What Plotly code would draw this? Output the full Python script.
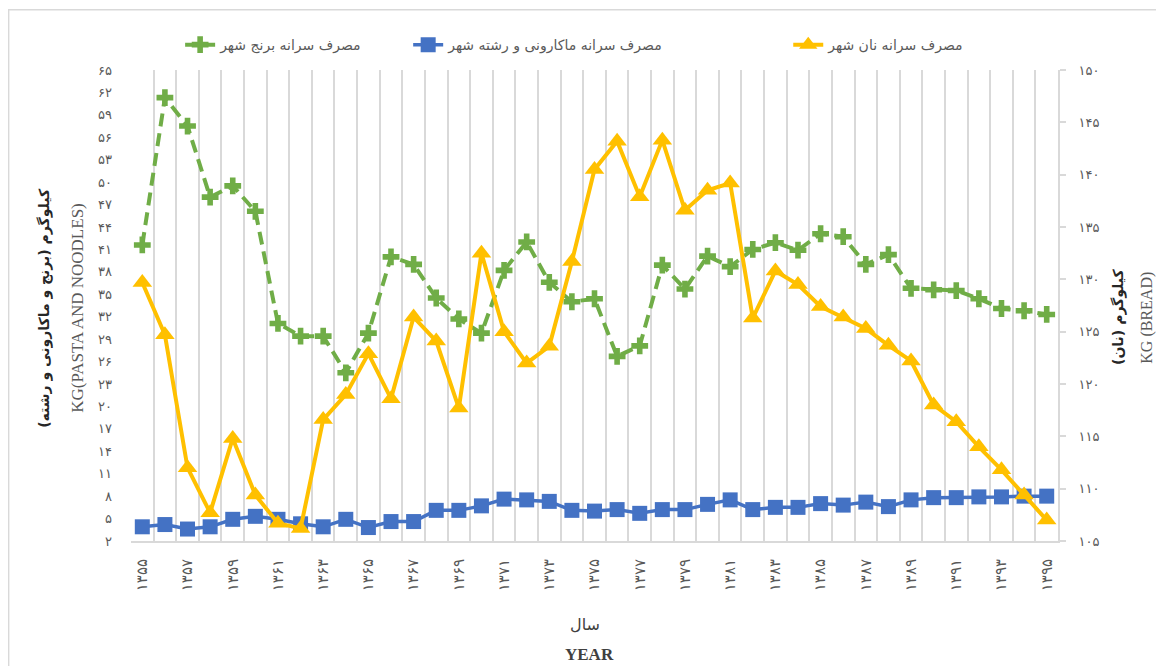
import plotly.graph_objects as go

# ---- data ----
years = list(range(1355, 1396))
rice = [41.6, 61.3, 57.5, 48.0, 49.5, 46.1, 31.1, 29.4, 29.4, 24.5, 29.8,
        40.0, 39.0, 34.5, 31.7, 29.8, 38.2, 42.0, 36.6, 34.0, 34.4, 26.7,
        28.1, 38.9, 35.7, 40.1, 38.7, 41.0, 41.9, 40.9, 43.1, 42.7, 39.0,
        40.3, 35.8, 35.6, 35.5, 34.4, 33.1, 32.8, 32.3]
pasta = [3.9, 4.2, 3.6, 3.9, 4.9, 5.3, 4.9, 4.3, 3.9, 4.9, 3.8,
         4.6, 4.6, 6.1, 6.1, 6.7, 7.6, 7.5, 7.3, 6.1, 6.0, 6.2,
         5.7, 6.2, 6.2, 6.9, 7.5, 6.2, 6.5, 6.5, 7.0, 6.8, 7.2,
         6.6, 7.5, 7.8, 7.8, 7.9, 7.9, 8.0, 8.0]
bread = [129.7, 124.7, 112.0, 107.7, 114.8, 109.4, 106.7, 106.2, 116.6, 119.0, 122.9,
         118.6, 126.4, 124.1, 117.7, 132.5, 125.0, 122.0, 123.6, 131.7, 140.5, 143.2,
         137.9, 143.3, 136.6, 138.5, 139.2, 126.3, 130.8, 129.5, 127.4, 126.4, 125.3,
         123.7, 122.2, 118.0, 116.4, 114.0, 111.8, 109.4, 107.0]

series_names = ["مصرف سرانه برنج شهر", "مصرف سرانه ماکارونی و رشته شهر", "مصرف سرانه نان شهر"]
x_tick_years = years[::2]
left_ticks = [2, 5, 8, 11, 14, 17, 20, 23, 26, 29, 32, 35, 38, 41, 44, 47, 50, 53, 56, 59, 62, 65]
right_ticks = [105, 110, 115, 120, 125, 130, 135, 140, 145, 150]

FA = str.maketrans("0123456789", "۰۱۲۳۴۵۶۷۸۹")


def fa(v):
    return str(v).translate(FA)


GREEN, BLUE, YELLOW = "#70AD47", "#4472C4", "#FFC000"
GRID = "#D9D9D9"

fig = go.Figure()
fig.add_trace(go.Scatter(
    x=years, y=rice, name=series_names[0], mode="lines+markers", legend="legend",
    line=dict(color=GREEN, width=4, dash="13px,7px"),
    marker=dict(symbol="cross", size=14, color=GREEN, line=dict(width=0))))
fig.add_trace(go.Scatter(
    x=years, y=pasta, name=series_names[1], mode="lines+markers", legend="legend2",
    line=dict(color=BLUE, width=3.5),
    marker=dict(symbol="square", size=15, color=BLUE, line=dict(width=0))))
fig.add_trace(go.Scatter(
    x=years, y=bread, name=series_names[2], mode="lines+markers", yaxis="y2", legend="legend3",
    line=dict(color=YELLOW, width=4),
    marker=dict(symbol="triangle-up", size=17, color=YELLOW, line=dict(width=0))))

leg_common = dict(orientation="h", y=1.053, xanchor="left", yanchor="middle",
                  font=dict(size=14, color="#595959"), bgcolor="rgba(0,0,0,0)")

fig.update_layout(
    width=1156, height=658,
    margin=dict(l=123, r=106, t=62, b=125),
    paper_bgcolor="white", plot_bgcolor="white",
    font=dict(family="DejaVu Sans", color="#595959"),
    showlegend=True,
    legend=dict(x=0.053, **leg_common),
    legend2=dict(x=0.299, **leg_common),
    legend3=dict(x=0.709, **leg_common),
    xaxis=dict(
        range=[1354.5, 1395.5], tickmode="array",
        tickvals=x_tick_years, ticktext=[fa(y) for y in x_tick_years],
        tickangle=-90, tickfont=dict(size=15, color="#595959"),
        showgrid=False, zeroline=False, ticks="",
        showline=True, linecolor=GRID, linewidth=2,
        ticklabelstandoff=10,
        minor=dict(tick0=1354.5, dtick=1, showgrid=True, gridcolor=GRID, gridwidth=2, ticks=""),
    ),
    yaxis=dict(
        range=[2, 65], tickmode="array", tickvals=left_ticks,
        ticktext=[fa(v) for v in left_ticks],
        tickfont=dict(size=13, color="#595959"),
        showgrid=False, zeroline=False, ticks="", showline=False,
        ticklabelstandoff=18,
    ),
    yaxis2=dict(
        range=[105, 150], overlaying="y", side="right", tickmode="array",
        tickvals=right_ticks, ticktext=[fa(v) for v in right_ticks],
        tickfont=dict(size=13, color="#595959"),
        showgrid=False, zeroline=False,
        showline=True, linecolor=GRID, linewidth=2,
        ticks="outside", ticklen=6, tickwidth=2, tickcolor=GRID,
        ticklabelstandoff=10,
    ),
    shapes=[dict(type="rect", xref="paper", yref="paper",
                 x0=-0.132, x1=1.3, y0=-0.5, y1=1.128,
                 line=dict(color=GRID, width=1.5), layer="below")],
    annotations=[
        dict(text="<b>کیلوگرم (برنج و ماکارونی و رشته)</b>", textangle=-90,
             x=-0.0928, y=0.495, xref="paper", yref="paper", showarrow=False,
             xanchor="center", yanchor="middle",
             font=dict(size=14, color="#262626", family="DejaVu Sans")),
        dict(text="KG(PASTA AND NOODLES)", textangle=-90,
             x=-0.0572, y=0.495, xref="paper", yref="paper", showarrow=False,
             xanchor="center", yanchor="middle",
             font=dict(size=17, color="#595959", family="Liberation Serif")),
        dict(text="<b>کیلوگرم (نان)</b>", textangle=-90,
             x=1.0655, y=0.475, xref="paper", yref="paper", showarrow=False,
             xanchor="center", yanchor="middle",
             font=dict(size=14, color="#262626", family="DejaVu Sans")),
        dict(text="KG (BREAD)", textangle=-90,
             x=1.0965, y=0.475, xref="paper", yref="paper", showarrow=False,
             xanchor="center", yanchor="middle",
             font=dict(size=16, color="#595959", family="Liberation Serif")),
        dict(text="سال", x=0.49, y=-0.178, xref="paper", yref="paper", showarrow=False,
             xanchor="center", yanchor="middle",
             font=dict(size=16, color="#404040", family="DejaVu Sans")),
        dict(text="<b>YEAR</b>", x=0.495, y=-0.242, xref="paper", yref="paper", showarrow=False,
             xanchor="center", yanchor="middle",
             font=dict(size=17, color="#404040", family="Liberation Serif")),
    ],
)

fig.write_html("out.html")
